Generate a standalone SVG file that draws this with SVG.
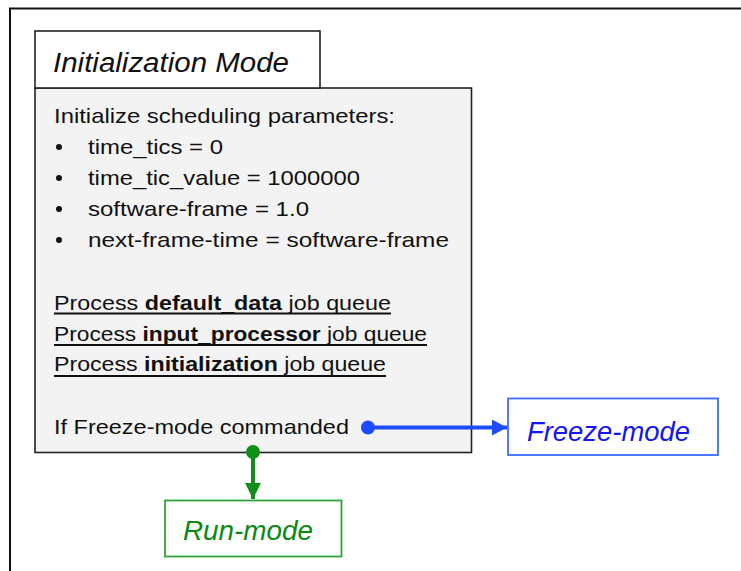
<svg xmlns="http://www.w3.org/2000/svg" width="741" height="571" viewBox="0 0 741 571">
  <style>
    .t { font-family: "Liberation Sans", Arial, sans-serif; font-size: 21px; fill: #111; }
    .it { font-family: "Liberation Sans", Arial, sans-serif; font-style: italic; font-size: 27px; }
    .b { font-weight: bold; }
    .ul { stroke: #111; stroke-width: 1.8; }
  </style>
  <defs>
    <marker id="arrBlue" markerWidth="15" markerHeight="16" refX="15" refY="8" orient="auto" markerUnits="userSpaceOnUse">
      <path d="M0,0 L15,8 L0,16 Z" fill="#1f4bff"/>
    </marker>
    <marker id="arrGreen" markerWidth="16" markerHeight="16" refX="16" refY="8" orient="auto" markerUnits="userSpaceOnUse">
      <path d="M0,0 L16,8 L0,16 Z" fill="#0d8f1a"/>
    </marker>
  </defs>
  <rect x="0" y="0" width="741" height="571" fill="#ffffff"/>
  <!-- outer frame -->
  <path d="M10,571 L10,8.5 L741,8.5" fill="none" stroke="#111" stroke-width="2"/>

  <g id="init-mode">
    <rect x="35" y="88" width="436.5" height="364.5" fill="#f3f3f3" stroke="#222" stroke-width="1.6"/>
    <rect x="35" y="31" width="285" height="57" fill="#ffffff" stroke="#222" stroke-width="1.6"/>
    <text class="it" x="53" y="72" fill="#111" textLength="236" lengthAdjust="spacingAndGlyphs">Initialization Mode</text>
    <text class="t" x="54" y="123" textLength="341" lengthAdjust="spacingAndGlyphs">Initialize scheduling parameters:</text>
    <circle cx="59" cy="147" r="3" fill="#111"/>
    <circle cx="59" cy="178" r="3" fill="#111"/>
    <circle cx="59" cy="209" r="3" fill="#111"/>
    <circle cx="59" cy="240" r="3" fill="#111"/>
    <text class="t" x="88" y="154" textLength="135" lengthAdjust="spacingAndGlyphs">time_tics = 0</text>
    <text class="t" x="88" y="185" textLength="272" lengthAdjust="spacingAndGlyphs">time_tic_value = 1000000</text>
    <text class="t" x="88" y="216" textLength="221" lengthAdjust="spacingAndGlyphs">software-frame = 1.0</text>
    <text class="t" x="88" y="247" textLength="361" lengthAdjust="spacingAndGlyphs">next-frame-time = software-frame</text>
    <text class="t" x="54" y="310" textLength="337" lengthAdjust="spacingAndGlyphs">Process <tspan class="b">default_data</tspan> job queue</text>
    <line class="ul" x1="54" y1="313.5" x2="391" y2="313.5"/>
    <text class="t" x="54" y="341" textLength="373" lengthAdjust="spacingAndGlyphs">Process <tspan class="b">input_processor</tspan> job queue</text>
    <line class="ul" x1="54" y1="345" x2="427" y2="345"/>
    <text class="t" x="54" y="371" textLength="332" lengthAdjust="spacingAndGlyphs">Process <tspan class="b">initialization</tspan> job queue</text>
    <line class="ul" x1="54" y1="376" x2="386" y2="376"/>
    <text class="t" x="54" y="434" textLength="295" lengthAdjust="spacingAndGlyphs">If Freeze-mode commanded</text>
  </g>

  <g id="freeze-mode">
    <rect x="508" y="398.5" width="210" height="56.5" fill="#ffffff" stroke="#3b6cff" stroke-width="1.8"/>
    <text class="it" x="527" y="441" fill="#1515f0" textLength="163" lengthAdjust="spacingAndGlyphs">Freeze-mode</text>
  </g>

  <g id="run-mode">
    <rect x="165" y="500.5" width="176.5" height="56" fill="#ffffff" stroke="#2fa33a" stroke-width="1.8"/>
    <text class="it" x="183" y="540" fill="#0a8a14" textLength="130" lengthAdjust="spacingAndGlyphs">Run-mode</text>
  </g>

  <g id="connectors">
    <circle cx="368" cy="427.5" r="7" fill="#1f4bff"/>
    <line x1="368" y1="427.5" x2="507" y2="427.5" stroke="#1f4bff" stroke-width="4" marker-end="url(#arrBlue)"/>
    <circle cx="253" cy="452" r="7" fill="#0d8f1a"/>
    <line x1="253" y1="452" x2="253" y2="499" stroke="#0d8f1a" stroke-width="4" marker-end="url(#arrGreen)"/>
  </g>
</svg>
